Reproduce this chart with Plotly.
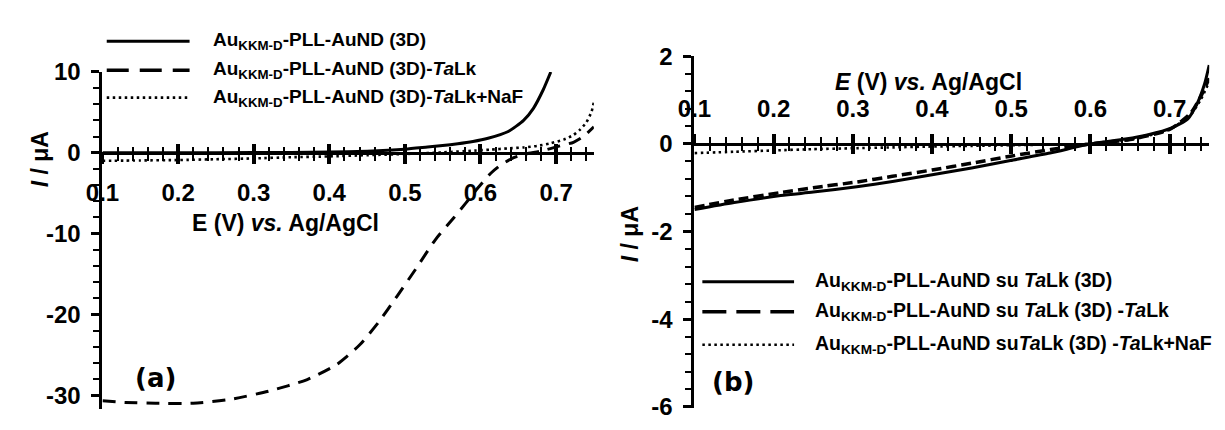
import plotly.graph_objects as go

# ---------------- panel (a) data ----------------
E_a_solid = [0.10, 0.20, 0.30, 0.40, 0.45, 0.50, 0.53, 0.55, 0.57, 0.59, 0.61, 0.636, 0.657, 0.67, 0.683, 0.693]
I_a_solid = [0.0, 0.0, 0.02, 0.08, 0.2, 0.45, 0.72, 0.9, 1.12, 1.4, 1.8, 2.6, 4.0, 5.5, 7.8, 10.0]

E_a_dash = [0.10, 0.13, 0.17, 0.22, 0.27, 0.32, 0.37, 0.41, 0.44, 0.465, 0.49, 0.515, 0.54,
            0.565, 0.58, 0.597, 0.614, 0.627, 0.644, 0.66, 0.68, 0.705, 0.723, 0.736, 0.75]
I_a_dash = [-30.7, -30.9, -31.0, -31.0, -30.5, -29.5, -28.1, -26.2, -23.8, -21.0, -17.7, -14.3, -10.8,
            -8.0, -6.3, -4.3, -2.5, -1.5, -0.6, -0.15, 0.2, 0.85, 1.3, 2.0, 3.2]

E_a_dot = [0.10, 0.15, 0.20, 0.25, 0.30, 0.35, 0.40, 0.45, 0.50, 0.55, 0.592, 0.614, 0.636, 0.657,
           0.675, 0.692, 0.71, 0.723, 0.731, 0.74, 0.747, 0.75]
I_a_dot = [-1.0, -0.95, -0.9, -0.8, -0.7, -0.55, -0.45, -0.3, -0.15, 0.05, 0.27, 0.39, 0.54, 0.66,
           0.85, 1.16, 1.63, 2.2, 2.8, 3.76, 5.1, 6.3]

# ---------------- panel (b) data ----------------
E_b_solid = [0.10, 0.15, 0.209, 0.25, 0.305, 0.35, 0.402, 0.45, 0.499, 0.549, 0.60, 0.644, 0.673,
             0.702, 0.723, 0.735, 0.744, 0.75]
I_b_solid = [-1.50, -1.34, -1.18, -1.10, -0.98, -0.86, -0.70, -0.55, -0.38, -0.21, 0.0, 0.11, 0.21,
             0.36, 0.57, 0.93, 1.36, 1.80]

E_b_dash = [0.10, 0.15, 0.209, 0.25, 0.305, 0.35, 0.402, 0.45, 0.499, 0.55, 0.60, 0.65, 0.70,
            0.727, 0.739, 0.75]
I_b_dash = [-1.45, -1.28, -1.11, -1.00, -0.87, -0.74, -0.59, -0.44, -0.28, -0.13, 0.0, 0.10, 0.33,
            0.71, 1.07, 1.50]

E_b_dot = [0.10, 0.15, 0.20, 0.25, 0.30, 0.35, 0.40, 0.45, 0.50, 0.55, 0.60, 0.65, 0.70, 0.727,
           0.739, 0.75]
I_b_dot = [-0.21, -0.18, -0.15, -0.12, -0.10, -0.08, -0.06, -0.045, -0.03, -0.015, 0.0, 0.10, 0.33,
           0.68, 1.00, 1.42]

# ---------------- ticks ----------------
x_tickvals = [0.1, 0.2, 0.3, 0.4, 0.5, 0.6, 0.7]
x_ticktext = ["0.1", "0.2", "0.3", "0.4", "0.5", "0.6", "0.7"]
ya_tickvals = [10, 0, -10, -20, -30]
ya_ticktext = ["10", "0", "-10", "-20", "-30"]
yb_tickvals = [2, 0, -2, -4, -6]
yb_ticktext = ["2", "0", "-2", "-4", "-6"]

legend_a = [
    "<b>Au<sub>KKM-D</sub>-PLL-AuND (3D)</b>",
    "<b>Au<sub>KKM-D</sub>-PLL-AuND (3D)-<i>Ta</i>Lk</b>",
    "<b>Au<sub>KKM-D</sub>-PLL-AuND (3D)-<i>Ta</i>Lk+NaF</b>",
]
legend_b = [
    "<b>Au<sub>KKM-D</sub>-PLL-AuND su <i>Ta</i>Lk (3D)</b>",
    "<b>Au<sub>KKM-D</sub>-PLL-AuND su <i>Ta</i>Lk (3D) -<i>Ta</i>Lk</b>",
    "<b>Au<sub>KKM-D</sub>-PLL-AuND su<i>Ta</i>Lk (3D) -<i>Ta</i>Lk+NaF</b>",
]

W, H = 1225, 430
FONT = "Liberation Sans, Arial, sans-serif"
BLACK = "#000000"

def px(x):
    return x / W

def py(y):
    return 1 - y / H

SOLID = dict(color=BLACK, width=3)
DASH_A = dict(color=BLACK, width=3, dash="13px,9px")
DASH_B = dict(color=BLACK, width=3.5, dash="10px,5px")
DOT = dict(color=BLACK, width=2.6, dash="2.5px,3.5px")

fig = go.Figure()

for xs, ys, ln in [(E_a_solid, I_a_solid, SOLID), (E_a_dash, I_a_dash, DASH_A), (E_a_dot, I_a_dot, DOT)]:
    fig.add_trace(go.Scatter(x=xs, y=ys, mode="lines", line=dict(shape="spline", smoothing=0.6, **ln),
                             xaxis="x", yaxis="y", showlegend=False, hoverinfo="skip"))
for xs, ys, ln in [(E_b_solid, I_b_solid, SOLID), (E_b_dash, I_b_dash, DASH_B), (E_b_dot, I_b_dot, DOT)]:
    fig.add_trace(go.Scatter(x=xs, y=ys, mode="lines", line=dict(shape="spline", smoothing=0.6, **ln),
                             xaxis="x2", yaxis="y2", showlegend=False, hoverinfo="skip"))

# helper traces so the overlay axes (opposite-side ticks) are drawn
fig.add_trace(go.Scatter(x=[0.1], y=[0], mode="markers", marker=dict(opacity=0),
                         xaxis="x3", yaxis="y", showlegend=False, hoverinfo="skip"))
fig.add_trace(go.Scatter(x=[0.1], y=[0], mode="markers", marker=dict(opacity=0),
                         xaxis="x4", yaxis="y2", showlegend=False, hoverinfo="skip"))

# axis geometry (pixel positions of the frames)
ax_a_left, ax_a_right = 86.7, 585.0
ax_a_top = 61.7
ya_range = [-31.7, 10]
ya_scale = 8.6  # px per µA
ax_a_bot = ax_a_top + (ya_range[1] - ya_range[0]) * ya_scale

ax_b_left, ax_b_right = 687.0, 1209.0
ax_b_top = 45.0
yb_range = [-6.03, 2.0]
yb_scale = 373.0 / 8.0
ax_b_bot = ax_b_top + (yb_range[1] - yb_range[0]) * yb_scale

dom_ya = [py(ax_a_bot), py(ax_a_top)]
dom_yb = [py(ax_b_bot), py(ax_b_top)]
pos_xa = dom_ya[0] + (0 - ya_range[0]) / (ya_range[1] - ya_range[0]) * (dom_ya[1] - dom_ya[0])
pos_xb = dom_yb[0] + (0 - yb_range[0]) / (yb_range[1] - yb_range[0]) * (dom_yb[1] - dom_yb[0])

tickfont = dict(family=FONT, size=24, color=BLACK, weight="bold")

def xaxis_main(domain, pos, side, standoff):
    return dict(domain=domain, range=[0.1, 0.75], anchor="free", position=pos, side=side,
                showline=True, linewidth=3, linecolor=BLACK, showgrid=False, zeroline=False,
                ticks="outside", ticklen=9, tickwidth=3.5, tickcolor=BLACK,
                tickmode="array", tickvals=x_tickvals, ticktext=x_ticktext, tickfont=tickfont,
                ticklabelstandoff=standoff, ticklabeloverflow="allow",
                minor=dict(ticks="outside", ticklen=6, tickwidth=2, tickcolor=BLACK,
                           tickmode="linear", tick0=0.1, dtick=0.02, showgrid=False))

def xaxis_overlay(domain, pos, side, over):
    return dict(domain=domain, range=[0.1, 0.75], anchor="free", position=pos, side=side,
                overlaying=over, showline=False, showgrid=False, zeroline=False,
                ticks="inside", ticklen=9, tickwidth=3.5, tickcolor=BLACK,
                tickmode="array", tickvals=x_tickvals, showticklabels=False,
                minor=dict(ticks="inside", ticklen=6, tickwidth=2, tickcolor=BLACK,
                           tickmode="linear", tick0=0.1, dtick=0.02, showgrid=False))

def yaxis(domain, rng, anchor, tv, tt, minor_dtick):
    return dict(domain=domain, range=rng, anchor=anchor, showline=True, linewidth=3, linecolor=BLACK,
                showgrid=False, zeroline=False, ticks="outside", ticklen=8, tickwidth=3, tickcolor=BLACK,
                tickmode="array", tickvals=tv, ticktext=tt, tickfont=tickfont, ticklabelstandoff=6,
                ticklabeloverflow="allow",
                minor=dict(ticks="outside", ticklen=6, tickwidth=2, tickcolor=BLACK,
                           tickmode="linear", tick0=0, dtick=minor_dtick, showgrid=False))

dom_xa = [px(ax_a_left), px(ax_a_right)]
dom_xb = [px(ax_b_left), px(ax_b_right)]

fig.update_layout(
    width=W, height=H, margin=dict(l=0, r=0, t=0, b=0),
    paper_bgcolor="white", plot_bgcolor="white",
    xaxis=xaxis_main(dom_xa, pos_xa, "bottom", 8),
    xaxis3=xaxis_overlay(dom_xa, pos_xa, "bottom", "x"),
    yaxis=yaxis(dom_ya, ya_range, "x", ya_tickvals, ya_ticktext, 2),
    xaxis2=xaxis_main(dom_xb, pos_xb, "top", 7),
    xaxis4=xaxis_overlay(dom_xb, pos_xb, "top", "x2"),
    yaxis2=yaxis(dom_yb, yb_range, "x2", yb_tickvals, yb_ticktext, 0.4),
)

annotations = []
shapes = []

def text(x, y, s, size, xanchor="center", angle=0, family=FONT):
    f = dict(family=family, size=size, color=BLACK)
    annotations.append(dict(x=px(x), y=py(y), xref="paper", yref="paper", text=s, showarrow=False,
                            xanchor=xanchor, yanchor="middle", textangle=angle, font=f))

# axis titles
text(272, 222, "<b>E (V) <i>vs.</i> Ag/AgCl</b>", 23)
text(924, 72, "<b><i>E</i> (V) <i>vs.</i> Ag/AgCl</b>", 23)
text(23, 155, "<b><i>I</i> / μA</b>", 23, angle=-90)
text(621, 234, "<b><i>I</i> / μA</b>", 23, angle=-90)

# panel labels
text(140, 387, "<b>(a)</b>", 26, family="DejaVu Sans, Verdana, sans-serif")
text(726, 392, "<b>(b)</b>", 26, family="DejaVu Sans, Verdana, sans-serif")

# legend entries: sample line + label
leg_a_styles = [SOLID, dict(color=BLACK, width=3.5, dash="22px,11px"), dict(color=BLACK, width=2.6, dash="2.5px,3.5px")]
leg_b_styles = [SOLID, dict(color=BLACK, width=3.5, dash="24px,10px"), dict(color=BLACK, width=2.6, dash="2.5px,3.5px")]
for ln, yy, lbl in zip(leg_a_styles, [29, 60, 89], legend_a):
    shapes.append(dict(type="line", xref="paper", yref="paper", x0=px(91), x1=px(175), y0=py(yy), y1=py(yy),
                       line=ln))
    text(197, yy, lbl, 19, xanchor="left")
for ln, yy, lbl in zip(leg_b_styles, [285, 317, 352], legend_b):
    shapes.append(dict(type="line", xref="paper", yref="paper", x0=px(695), x1=px(788), y0=py(yy), y1=py(yy),
                       line=ln))
    text(807, yy, lbl, 19.5, xanchor="left")

fig.update_layout(annotations=annotations, shapes=shapes)

fig.write_html("out.html")
